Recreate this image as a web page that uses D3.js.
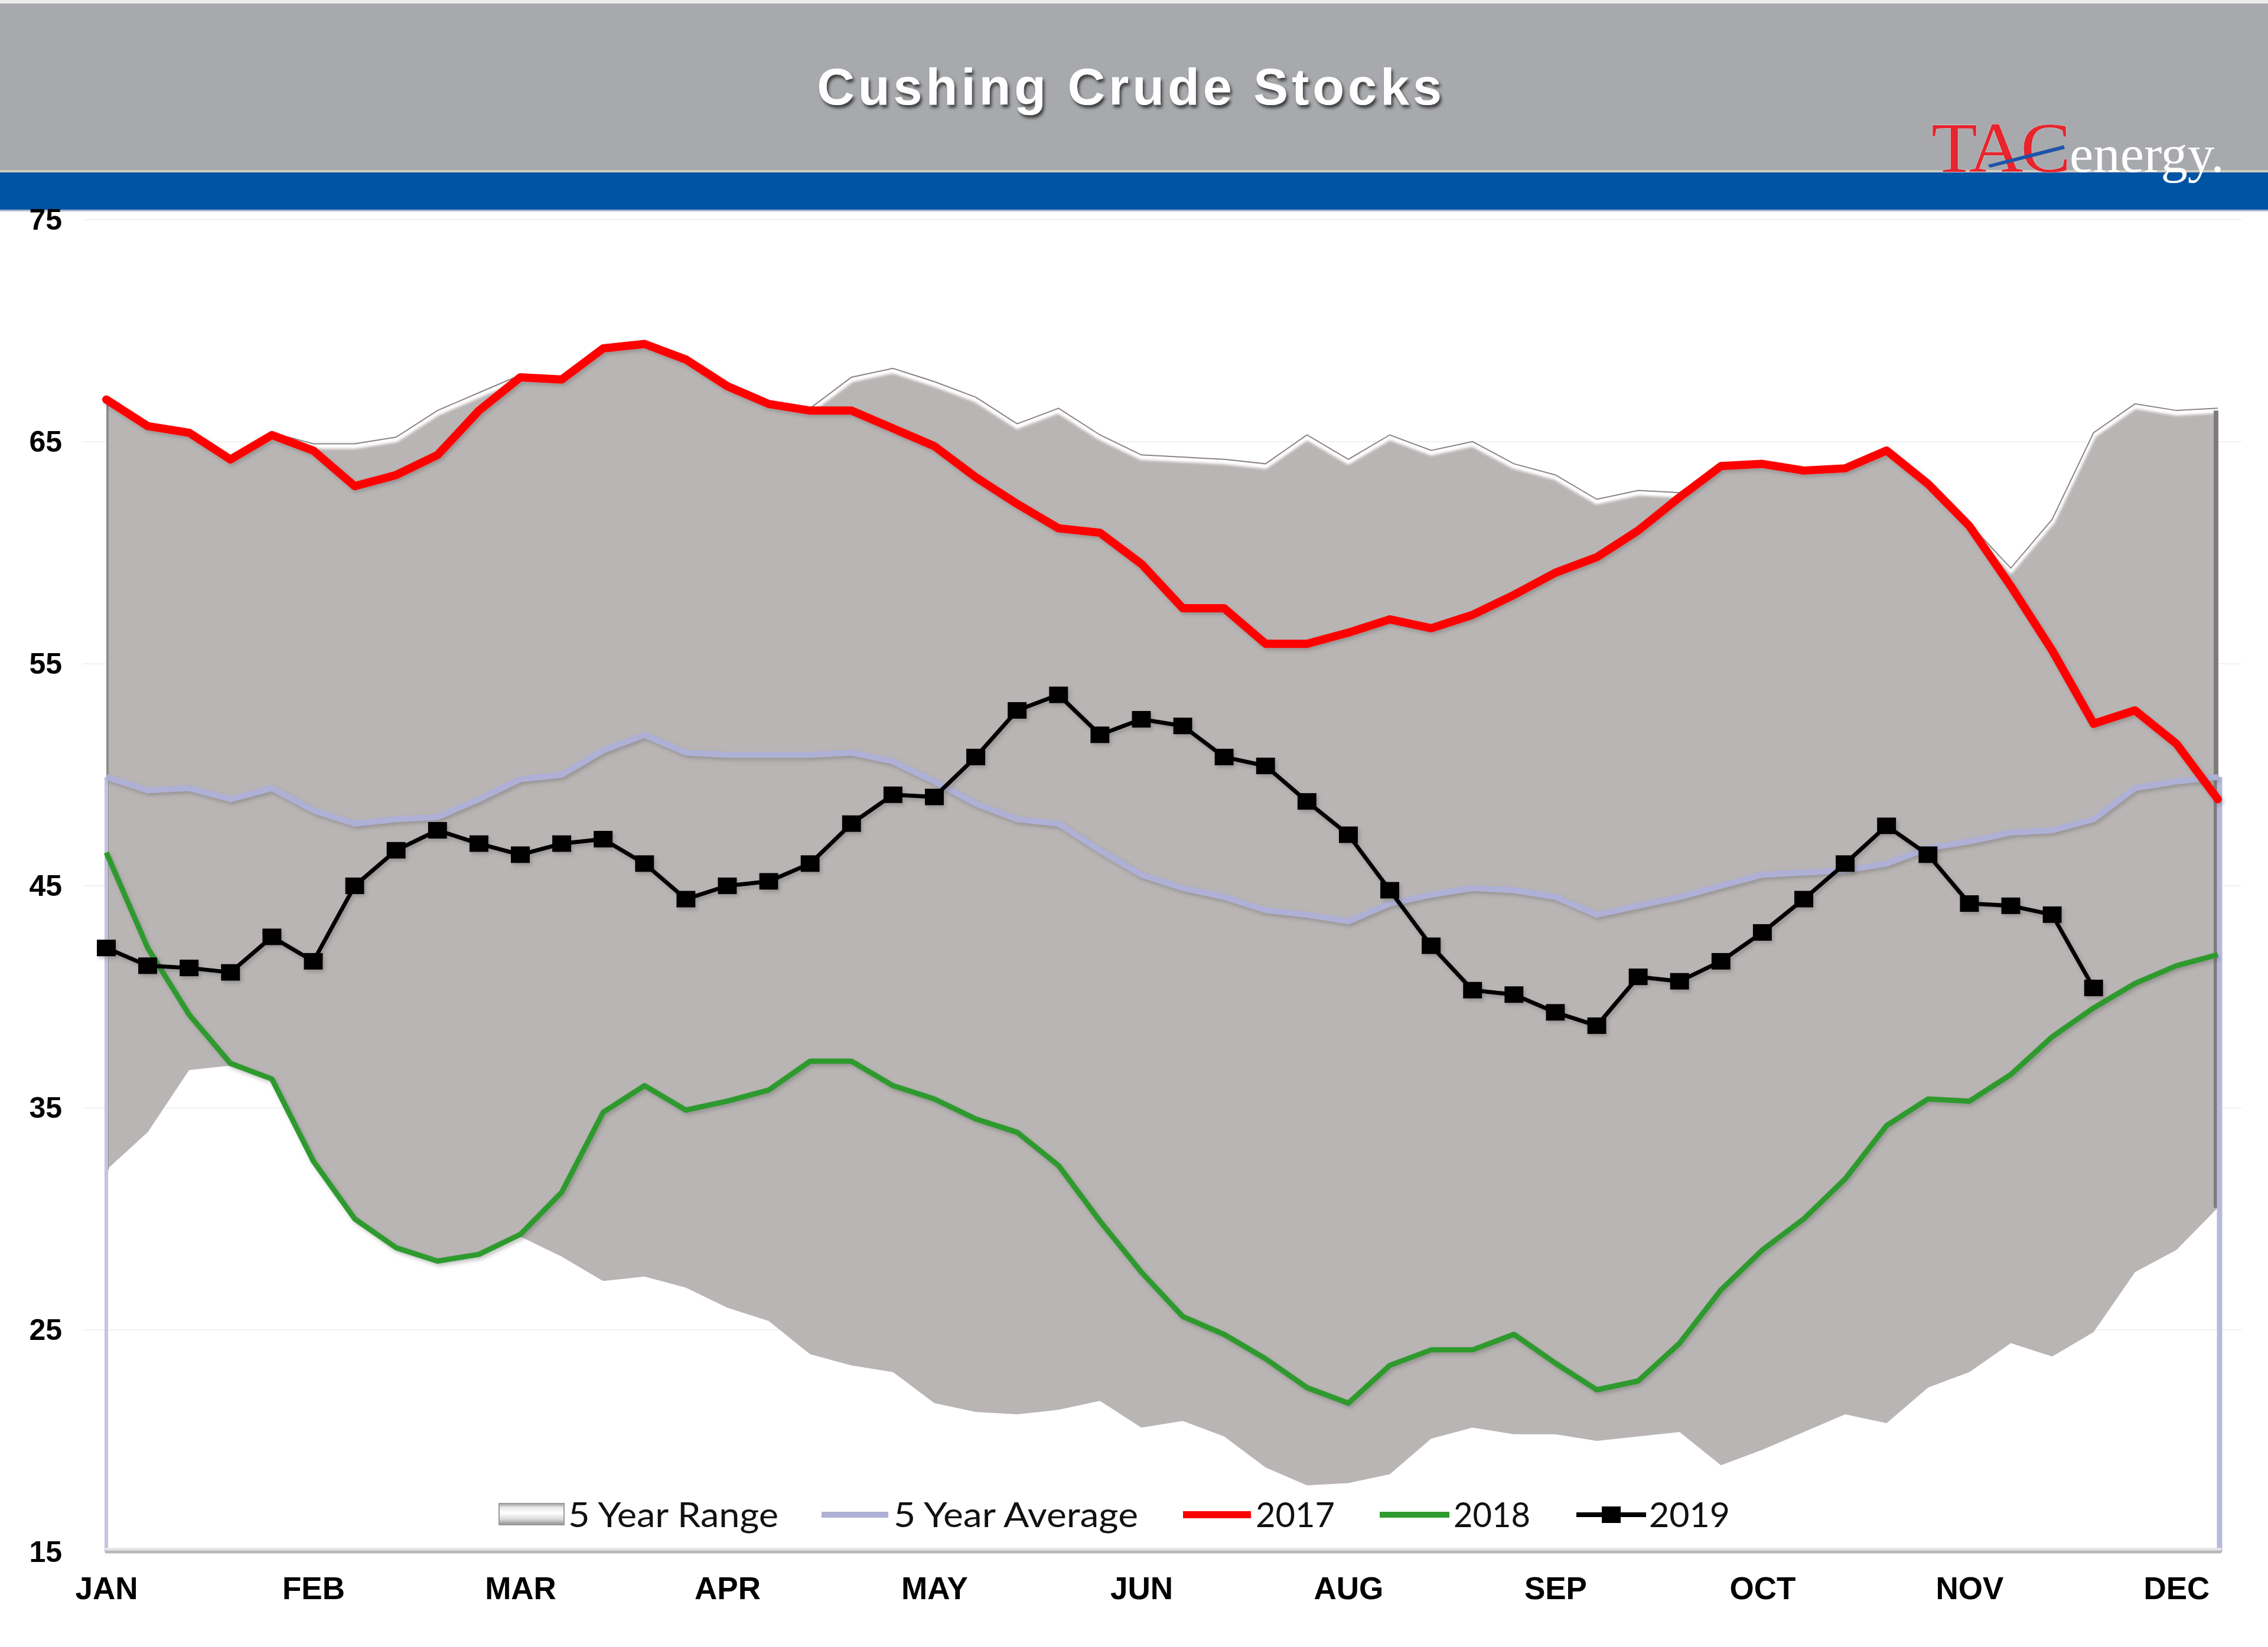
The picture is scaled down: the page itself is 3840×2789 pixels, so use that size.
<!DOCTYPE html>
<html>
<head>
<meta charset="utf-8">
<script src="https://cdn.jsdelivr.net/npm/d3@7"></script>
<style>
  html, body { margin: 0; padding: 0; background: #ffffff; }
  svg { display: block; }
</style>
</head>
<body>
<script>
// ---------------- DATA ----------------
const title = "Cushing Crude Stocks";
const weeks = d3.range(52);
const tickIndex = [0, 5, 10, 15, 20, 25, 30, 35, 40, 45, 50];
const tickLabels = ["JAN", "FEB", "MAR", "APR", "MAY", "JUN", "AUG", "SEP", "OCT", "NOV", "DEC"];
const yTicks = [15, 25, 35, 45, 55, 65, 75];

const rangeMax = [66.9, 65.7, 65.4, 64.2, 65.3, 64.8, 64.8, 65.1, 66.3, 67.1,
  67.9, 67.8, 69.2, 69.4, 68.7, 67.5, 66.7, 66.4, 67.8, 68.2,
  67.6, 66.9, 65.7, 66.4, 65.2, 64.3, 64.2, 64.1, 63.9, 65.2,
  64.1, 65.2, 64.5, 64.9, 63.9, 63.4, 62.3, 62.7, 62.6, 63.9,
  64.0, 63.7, 63.8, 64.6, 63.1, 61.2, 59.2, 61.4, 65.3, 66.6,
  66.3, 66.4];
const rangeMin = [32.2, 33.9, 36.7, 36.9, 36.2, 32.6, 29.9, 28.6, 28.1, 28.4,
  29.2, 28.3, 27.2, 27.4, 26.9, 26.0, 25.4, 23.9, 23.4, 23.1,
  21.7, 21.3, 21.2, 21.4, 21.8, 20.6, 20.9, 20.2, 18.8, 18.0,
  18.1, 18.5, 20.1, 20.6, 20.3, 20.3, 20.0, 20.2, 20.4, 18.9,
  19.6, 20.4, 21.2, 20.8, 22.4, 23.1, 24.4, 23.8, 24.9, 27.6,
  28.6, 30.5];
const avg5 = [49.9, 49.3, 49.4, 48.9, 49.4, 48.4, 47.8, 48.0, 48.1, 48.9,
  49.8, 50.0, 51.1, 51.8, 51.0, 50.9, 50.9, 50.9, 51.0, 50.6,
  49.7, 48.7, 48.0, 47.8, 46.6, 45.5, 44.9, 44.5, 43.9, 43.7,
  43.4, 44.2, 44.6, 44.9, 44.8, 44.5, 43.7, 44.1, 44.5, 45.0,
  45.5, 45.6, 45.7, 46.0, 46.7, 47.0, 47.4, 47.5, 48.0, 49.4,
  49.7, 49.9];
const y2017 = [66.9, 65.7, 65.4, 64.2, 65.3, 64.6, 63.0, 63.5, 64.4, 66.4,
  67.9, 67.8, 69.2, 69.4, 68.7, 67.5, 66.7, 66.4, 66.4, 65.6,
  64.8, 63.4, 62.2, 61.1, 60.9, 59.5, 57.5, 57.5, 55.9, 55.9,
  56.4, 57.0, 56.6, 57.2, 58.1, 59.1, 59.8, 61.0, 62.5, 63.9,
  64.0, 63.7, 63.8, 64.6, 63.1, 61.2, 58.5, 55.6, 52.3, 52.9,
  51.4, 48.9];
const y2018 = [46.5, 42.2, 39.2, 37.0, 36.3, 32.6, 30.0, 28.7, 28.1, 28.4,
  29.3, 31.2, 34.8, 36.0, 34.9, 35.3, 35.8, 37.1, 37.1, 36.0,
  35.4, 34.5, 33.9, 32.4, 29.9, 27.6, 25.6, 24.8, 23.7, 22.4,
  21.7, 23.4, 24.1, 24.1, 24.8, 23.5, 22.3, 22.7, 24.4, 26.8,
  28.6, 30.0, 31.8, 34.2, 35.4, 35.3, 36.5, 38.2, 39.5, 40.6,
  41.4, 41.9];
const y2019 = [42.2, 41.4, 41.3, 41.1, 42.7, 41.6, 45.0, 46.6, 47.5, 46.9,
  46.4, 46.9, 47.1, 46.0, 44.4, 45.0, 45.2, 46.0, 47.8, 49.1,
  49.0, 50.8, 52.9, 53.6, 51.8, 52.5, 52.2, 50.8, 50.4, 48.8,
  47.3, 44.8, 42.3, 40.3, 40.1, 39.3, 38.7, 40.9, 40.7, 41.6,
  42.9, 44.4, 46.0, 47.7, 46.4, 44.2, 44.1, 43.7, 40.4];

const legendItems = ["5 Year Range", "5 Year Average", "2017", "2018", "2019"];

// ---------------- LAYOUT ----------------
const W = 3840, H = 2789;
const svg = d3.select("body").append("svg").attr("width", W).attr("height", H)
  .attr("viewBox", `0 0 ${W} ${H}`);
const defs = svg.append("defs");

const x = d3.scaleLinear().domain([0, 51]).range([180, 3755]);
const y = d3.scaleLinear().domain([15, 75]).range([2628, 372]);

// filters
const sh = defs.append("filter").attr("id", "lineShadow").attr("x", "-5%").attr("y", "-5%").attr("width", "110%").attr("height", "110%");
sh.append("feDropShadow").attr("dx", 3).attr("dy", 4).attr("stdDeviation", 3)
  .attr("flood-color", "#555").attr("flood-opacity", 0.35);
const tsh = defs.append("filter").attr("id", "titleShadow").attr("x", "-5%").attr("y", "-20%").attr("width", "110%").attr("height", "150%");
tsh.append("feDropShadow").attr("dx", 3).attr("dy", 5).attr("stdDeviation", 2.5)
  .attr("flood-color", "#2a2a2a").attr("flood-opacity", 0.85);
const blur = defs.append("filter").attr("id", "soft");
blur.append("feGaussianBlur").attr("stdDeviation", 2);

const swGrad = defs.append("linearGradient").attr("id", "swGrad").attr("x1", 0).attr("y1", 0).attr("x2", 0).attr("y2", 1);
[["0%", "#9c9c9c"], ["18%", "#e8e8e8"], ["45%", "#ffffff"], ["75%", "#d8d8d8"], ["100%", "#8f8f8f"]]
  .forEach(s => swGrad.append("stop").attr("offset", s[0]).attr("stop-color", s[1]));

// ---------------- HEADER ----------------
svg.append("rect").attr("x", 0).attr("y", 0).attr("width", W).attr("height", 6).attr("fill", "#ececec");
svg.append("rect").attr("x", 0).attr("y", 6).attr("width", W).attr("height", 284).attr("fill", "#a7a9ac");
svg.append("rect").attr("x", 0).attr("y", 288).attr("width", W).attr("height", 4).attr("fill", "#cfcac2");
svg.append("rect").attr("x", 0).attr("y", 292).attr("width", W).attr("height", 63).attr("fill", "#0054a4");
svg.append("rect").attr("x", 0).attr("y", 355).attr("width", W).attr("height", 3).attr("fill", "#a9b9cf");

svg.append("text")
  .attr("x", 1915).attr("y", 177)
  .attr("text-anchor", "middle")
  .attr("font-family", "Liberation Sans, Arial, sans-serif")
  .attr("font-weight", "bold")
  .attr("font-size", 88)
  .attr("letter-spacing", 6)
  .attr("fill", "#ffffff")
  .attr("filter", "url(#titleShadow)")
  .text(title);

// Logo
const logo = svg.append("g");
logo.append("text")
  .attr("x", 3270).attr("y", 291)
  .attr("font-family", "Liberation Serif, Times New Roman, serif")
  .attr("font-size", 120)
  .attr("letter-spacing", -4)
  .attr("textLength", 232).attr("lengthAdjust", "spacingAndGlyphs")
  .attr("fill", "#e8242c")
  .attr("stroke", "#c9d2d6").attr("stroke-width", 1.2).attr("paint-order", "stroke")
  .text("TAC");
logo.append("text")
  .attr("x", 3504).attr("y", 291)
  .attr("font-family", "Liberation Serif, Times New Roman, serif")
  .attr("font-size", 88)
  .attr("textLength", 262).attr("lengthAdjust", "spacingAndGlyphs")
  .attr("fill", "#ffffff")
  .text("energy.");
logo.append("path")
  .attr("d", "M3366,279 L3494,246 L3496,252 L3369,284 Z")
  .attr("fill", "#1d54a8");

// ---------------- GRID ----------------
svg.append("g").selectAll("line").data(yTicks.slice(1)).join("line")
  .attr("x1", 140).attr("x2", 3795)
  .attr("y1", d => y(d)).attr("y2", d => y(d))
  .attr("stroke", "#f1f1f1").attr("stroke-width", 2);

// ---------------- 5 YEAR RANGE ----------------
const area = d3.area().x((d, i) => x(i)).y0((d, i) => y(rangeMin[i])).y1(d => y(d));
svg.append("path").datum(rangeMax).attr("d", area).attr("fill", "#b9b5b4");

const topLine = d3.line().x((d, i) => x(i)).y(d => y(d));
svg.append("path").datum(rangeMax).attr("d", topLine)
  .attr("fill", "none").attr("stroke", "#ffffff").attr("stroke-width", 9)
  .attr("filter", "url(#soft)");
svg.append("path").datum(rangeMax).attr("d", topLine)
  .attr("transform", "translate(0,-4)")
  .attr("fill", "none").attr("stroke", "#8d8384").attr("stroke-width", 2);

// area edges
svg.append("line").attr("x1", x(0) + 2).attr("x2", x(0) + 2)
  .attr("y1", y(rangeMax[0])).attr("y2", y(rangeMin[0]))
  .attr("stroke", "#8e8c8c").attr("stroke-width", 4);
svg.append("line").attr("x1", x(51) - 3).attr("x2", x(51) - 3)
  .attr("y1", y(rangeMax[51])).attr("y2", y(rangeMin[51]))
  .attr("stroke", "#7e7b7b").attr("stroke-width", 8);

// lavender edge verticals
svg.append("line").attr("x1", x(0)).attr("x2", x(0))
  .attr("y1", y(avg5[0])).attr("y2", y(15))
  .attr("stroke", "#c3c4e0").attr("stroke-width", 6);
svg.append("line").attr("x1", x(51) + 3).attr("x2", x(51) + 3)
  .attr("y1", y(avg5[51])).attr("y2", y(15))
  .attr("stroke", "#b8badc").attr("stroke-width", 9);

// ---------------- AXES ----------------
const xAxis = d3.axisBottom(x).tickValues(tickIndex)
  .tickFormat((d, i) => tickLabels[i]).tickSize(0).tickPadding(42);
const gx = svg.append("g").attr("transform", `translate(0,${y(15)})`).call(xAxis);
gx.select(".domain").remove();
gx.selectAll("text")
  .attr("font-family", "Liberation Sans, Arial, sans-serif")
  .attr("font-weight", "bold").attr("font-size", 53).attr("fill", "#000");

svg.append("line").attr("x1", x(0) - 2).attr("x2", x(51) + 6)
  .attr("y1", y(15) - 4).attr("y2", y(15) - 4)
  .attr("stroke", "#e6e6e6").attr("stroke-width", 6);
svg.append("line").attr("x1", x(0) - 2).attr("x2", x(51) + 6)
  .attr("y1", y(15)).attr("y2", y(15))
  .attr("stroke", "#b9b9b9").attr("stroke-width", 5);

const yAxis = d3.axisLeft(y).tickValues(yTicks).tickSize(0).tickPadding(75);
const gy = svg.append("g").attr("transform", `translate(${x(0)},0)`).call(yAxis);
gy.select(".domain").remove();
gy.selectAll("text")
  .attr("font-family", "Liberation Sans, Arial, sans-serif")
  .attr("font-weight", "bold").attr("font-size", 50).attr("fill", "#000");

// ---------------- LINES ----------------
const line = d3.line().x((d, i) => x(i)).y(d => y(d));

svg.append("path").datum(avg5).attr("d", line)
  .attr("fill", "none").attr("stroke", "#aeb0d6").attr("stroke-width", 10)
  .attr("stroke-linejoin", "round").attr("filter", "url(#lineShadow)");

svg.append("path").datum(y2018).attr("d", line)
  .attr("fill", "none").attr("stroke", "#2f9a2f").attr("stroke-width", 9)
  .attr("stroke-linejoin", "round").attr("filter", "url(#lineShadow)");

svg.append("path").datum(y2017).attr("d", line)
  .attr("fill", "none").attr("stroke", "#ff0000").attr("stroke-width", 14)
  .attr("stroke-linejoin", "round").attr("stroke-linecap", "round")
  .attr("filter", "url(#lineShadow)");

const g19 = svg.append("g").attr("filter", "url(#lineShadow)");
g19.append("path").datum(y2019).attr("d", line)
  .attr("fill", "none").attr("stroke", "#000").attr("stroke-width", 7)
  .attr("stroke-linejoin", "round");
g19.selectAll("rect").data(y2019).join("rect")
  .attr("x", (d, i) => x(i) - 16).attr("y", d => y(d) - 14)
  .attr("width", 32).attr("height", 28).attr("fill", "#000");

// ---------------- LEGEND ----------------
const legY = 2565;
const lg = svg.append("g");
const legFont = "Lato, 'Open Sans', sans-serif";
const legSpecs = [
  { sx: 845, ex: 955, tx: 962, tw: 356 },
  { sx: 1391, ex: 1504, tx: 1513, tw: 414 },
  { sx: 2003, ex: 2118, tx: 2126, tw: 134 },
  { sx: 2336, ex: 2454, tx: 2461, tw: 130 },
  { sx: 2669, ex: 2787, tx: 2792, tw: 137 }
];
// swatch for range
lg.append("rect").attr("x", legSpecs[0].sx).attr("y", legY - 19)
  .attr("width", legSpecs[0].ex - legSpecs[0].sx).attr("height", 36)
  .attr("fill", "url(#swGrad)").attr("stroke", "#9a9a9a").attr("stroke-width", 2);
const legColors = [null, "#aeb0d6", "#ff0000", "#2f9a2f", "#000000"];
const legWidths = [0, 10, 12, 10, 8];
legSpecs.forEach((s, k) => {
  if (k > 0) {
    lg.append("line").attr("x1", s.sx).attr("x2", s.ex).attr("y1", legY).attr("y2", legY)
      .attr("stroke", legColors[k]).attr("stroke-width", legWidths[k]);
  }
  lg.append("text").attr("x", s.tx).attr("y", legY + 21)
    .attr("font-family", legFont).attr("font-size", 58).attr("fill", "#111")
    .attr("textLength", s.tw).attr("lengthAdjust", "spacingAndGlyphs")
    .text(legendItems[k]);
});
lg.append("rect").attr("x", (legSpecs[4].sx + legSpecs[4].ex) / 2 - 16).attr("y", legY - 14)
  .attr("width", 32).attr("height", 28).attr("fill", "#000");
</script>
</body>
</html>
